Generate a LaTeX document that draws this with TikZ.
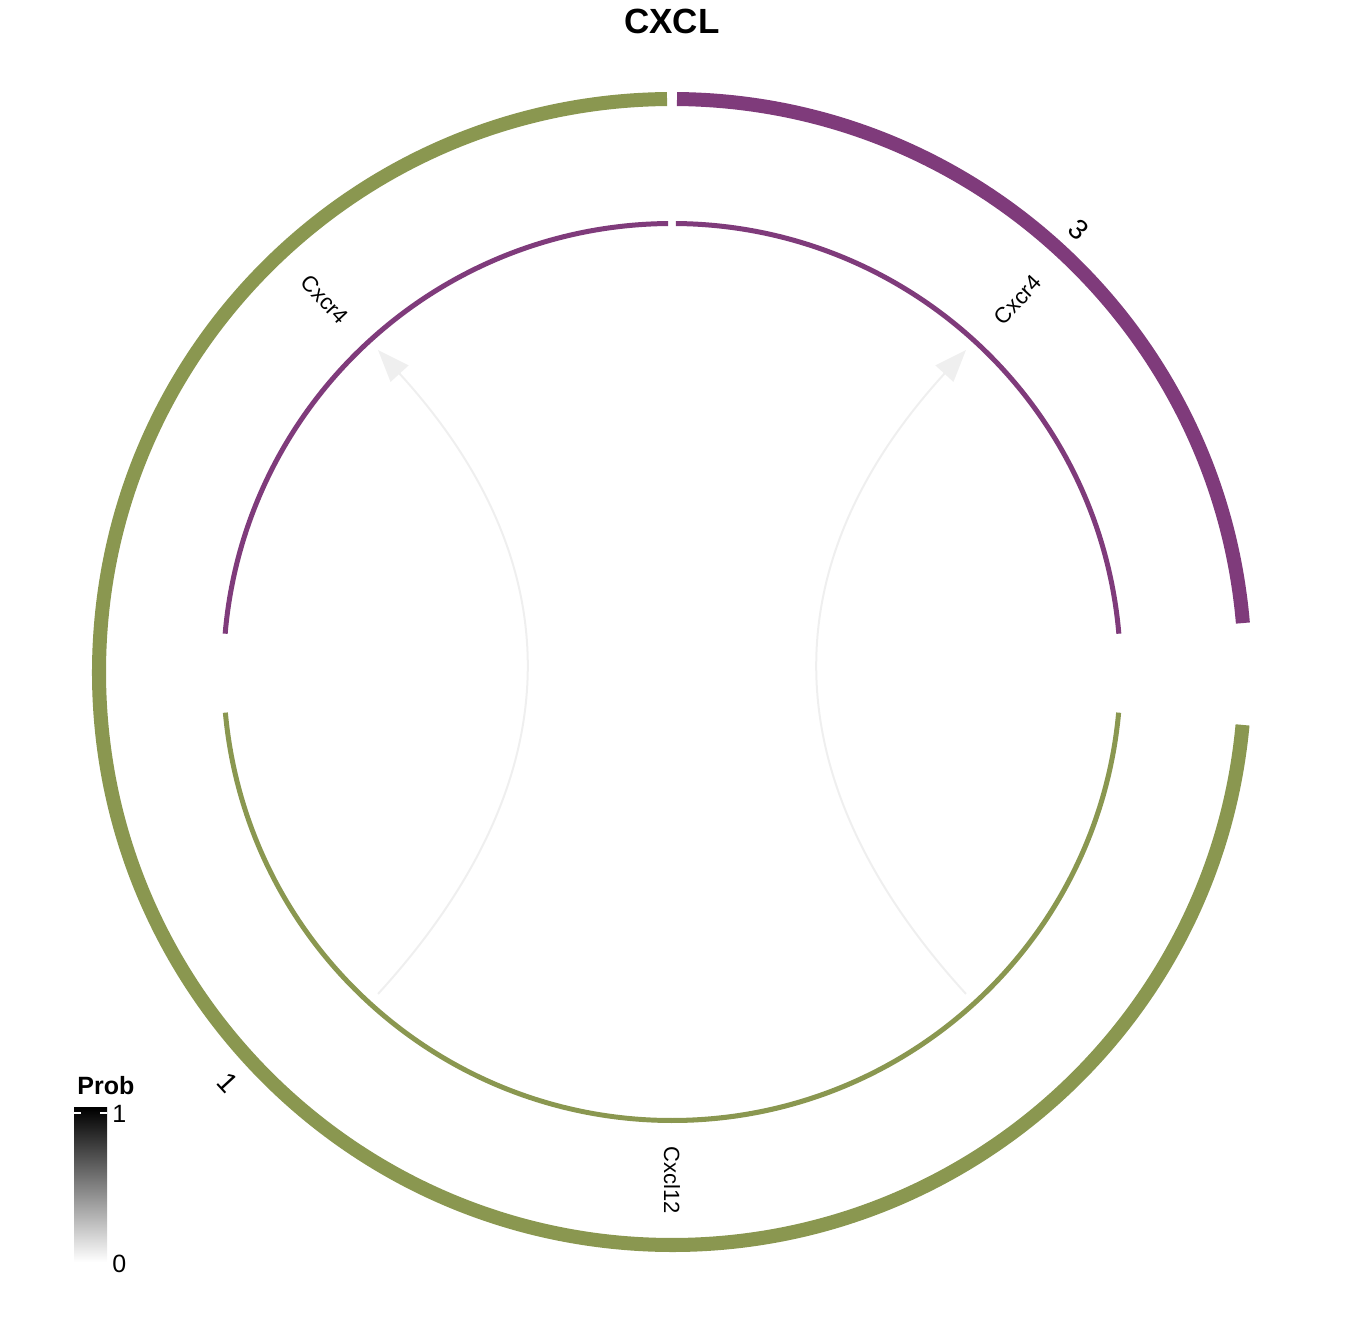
\documentclass[tikz,border=0pt]{standalone}
\usepackage{fontspec}
\setmainfont{Liberation Sans}
\usetikzlibrary{arrows.meta}
\definecolor{CPurple}{HTML}{7F3B7B}
\definecolor{CGreen}{HTML}{8A9750}
\definecolor{CLink}{HTML}{EFEFEF}
\tikzset{
  genelabel/.style={font=\fontsize{11pt}{13pt}\selectfont, inner sep=0pt},
  sectorlabel/.style={font=\fontsize{14pt}{16pt}\selectfont, inner sep=0pt},
  chordlink/.style={color=CLink, line width=1pt, -{Triangle[length=16pt,width=12pt]}},
}
% ring band: colour, start angle, end angle, inner radius, outer radius
\newcommand{\band}[5]{%
  \fill[#1] (#2:#4) arc[start angle=#2, end angle=#3, radius=#4]
    -- (#3:#5) arc[start angle=#3, end angle=#2, radius=#5] -- cycle;}

\begin{document}
\begin{tikzpicture}[x=0.5pt, y=0.5pt]
  \useasboundingbox (0,0) rectangle (1344,1344);
  \node[font=\bfseries\fontsize{17.5pt}{20pt}\selectfont, inner sep=0pt] (title) at (672,1323) {CXCL};
  \coordinate (c) at (672,672);
  \begin{scope}[shift={(c)}]
    % outer sectors
    \band{CPurple}{4.9}{89.5}{566}{580}
    \band{CGreen}{90.5}{354.7}{566}{580}
    % inner tracks
    \band{CPurple}{4.9}{89.5}{446}{451}
    \band{CPurple}{90.5}{175.1}{446}{451}
    \band{CGreen}{185.2}{354.8}{446}{451}
    \node[sectorlabel, rotate=-42.6] (s3) at (47.4:601) {3};
    \node[sectorlabel, rotate=-47.3] (s1) at (222.7:605) {1};
    \node[genelabel, rotate=-47] (rL) at (133:509) {Cxcr4};
    \node[genelabel, rotate=47] (rR) at (47.1:508) {Cxcr4};
    \node[genelabel, rotate=-90] (lig) at (270:508) {Cxcl12};
    % links
    \coordinate (aL) at (227.6:436); \coordinate (bL) at (132.4:436);
    \coordinate (aR) at (-47.6:436); \coordinate (bR) at (47.6:436);
    \draw[chordlink] (aL) .. controls (227.6:145.3) and (132.4:145.3) .. (bL);
    \draw[chordlink] (aR) .. controls (-47.6:145.3) and (47.6:145.3) .. (bR);
  \end{scope}
  % legend
  \node[font=\bfseries\fontsize{12.5pt}{14pt}\selectfont, anchor=base west, inner sep=0pt] (prob) at (77,249) {Prob};
  \shade[bottom color=white, top color=black] (74,82) rectangle (107,236);
  \draw[white, line width=0.8pt] (74,231) -- (81,231) (100,231) -- (107,231);
  \node[font=\fontsize{12.5pt}{14pt}\selectfont, anchor=west, inner sep=0pt] (one) at (112,230) {1};
  \node[font=\fontsize{12.5pt}{14pt}\selectfont, anchor=west, inner sep=0pt] (zero) at (112,80) {0};
\end{tikzpicture}
\end{document}
